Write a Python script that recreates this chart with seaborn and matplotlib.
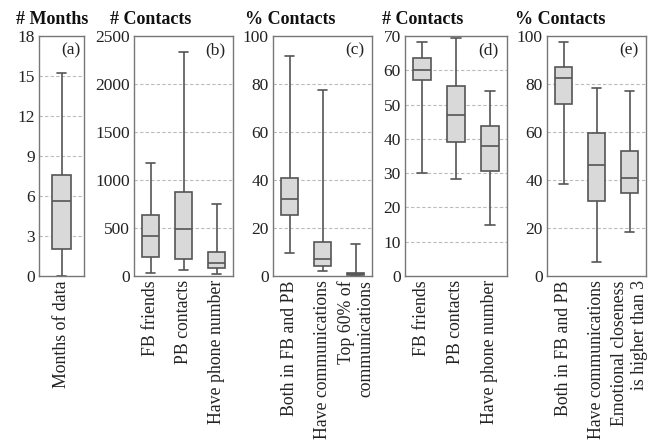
import numpy as np
import pandas as pd
import matplotlib
matplotlib.use("Agg")
import matplotlib.pyplot as plt
from matplotlib.ticker import FixedLocator
import seaborn as sns

# each box: [lower whisker, Q1, median, Q3, upper whisker]
months_labels = ["Months of data"]
months_stats = [[0, 2.0, 5.6, 7.6, 15.2]]

contacts_labels = ["FB friends", "PB contacts", "Have phone number"]
contacts_stats = [
    [30, 200, 415, 635, 1180],
    [60, 175, 490, 875, 2330],
    [25, 80, 140, 245, 755],
]

pct_labels = ["Both in FB and PB", "Have communications",
              "Top 60% of\ncommunications"]
pct_stats = [
    [9.5, 25.5, 32, 41, 91.5],
    [2.2, 4, 7, 14.3, 77.5],
    [0, 0.3, 0.7, 1.4, 13.5],
]

top_labels = ["FB friends", "PB contacts", "Have phone number"]
top_stats = [
    [30, 57.2, 60, 63.6, 68.3],
    [28.2, 39, 47, 55.5, 69.3],
    [15, 30.5, 38, 43.8, 54],
]

close_labels = ["Both in FB and PB", "Have communications",
                "Emotional closeness\nis higher than 3"]
close_stats = [
    [38.5, 71.5, 82.3, 87, 97.3],
    [6, 31.4, 46.3, 59.7, 78.2],
    [18.2, 34.4, 41, 52.2, 77],
]

panels = [
    ("# Months", "(a)", months_labels, months_stats, [0, 3, 6, 9, 12, 15, 18], 0.43),
    ("# Contacts", "(b)", contacts_labels, contacts_stats, [0, 500, 1000, 1500, 2000, 2500], 0.52),
    ("% Contacts", "(c)", pct_labels, pct_stats, [0, 20, 40, 60, 80, 100], 0.52),
    ("# Contacts", "(d)", top_labels, top_stats, [0, 10, 20, 30, 40, 50, 60, 70], 0.53),
    ("% Contacts", "(e)", close_labels, close_stats, [0, 20, 40, 60, 80, 100], 0.52),
]

sns.set_theme(style="white")
plt.rcParams["font.family"] = ["Liberation Serif", "DejaVu Serif"]

fig = plt.figure(figsize=(6.65, 4.47), dpi=100)
W, H = 665, 447
# axes extents in pixels (left, right) and title x
boxes_px = [(39, 84, 16), (134, 233, 110), (273, 372, 245), (405, 507, 382), (547, 646, 515)]
top_px, bot_px = 36, 276

edge = "#555555"
for (title, letter, labels, stats, yticks, bw), (x0, x1, tx) in zip(panels, boxes_px):
    ax = fig.add_axes([x0 / W, 1 - bot_px / H, (x1 - x0) / W, (bot_px - top_px) / H])
    rows = []
    for lab, st in zip(labels, stats):
        for v in st:
            rows.append({"label": lab, "value": v})
    df = pd.DataFrame(rows)
    sns.boxplot(data=df, x="label", y="value", ax=ax, whis=(0, 100), width=bw,
                color="#d9d9d9", linecolor=edge, linewidth=1.2, fliersize=0)
    ax.set_ylim(yticks[0], yticks[-1])
    ax.set_xlim(-0.5, len(labels) - 0.5)
    ax.set_yticks(yticks)
    ax.set_yticklabels([str(t) for t in yticks], fontsize=12.5)
    ax.set_xticks(range(len(labels)))
    ax.set_xticklabels(labels, rotation=90, fontsize=12.8, ha="center", va="top",
                       multialignment="right")
    ax.set_xlabel("")
    ax.set_ylabel("")
    ax.tick_params(axis="both", length=0, pad=3, colors="#222222")
    if len(labels) > 1:
        ax.xaxis.set_minor_locator(FixedLocator([i + 0.5 for i in range(len(labels) - 1)]))
        ax.tick_params(axis="x", which="minor", direction="in", length=3, color="#777777")
    for t in yticks[1:-1]:
        ax.axhline(t, color="#bbbbbb", lw=0.8, ls=(0, (3, 2)), zorder=0)
    for s in ax.spines.values():
        s.set_color("#777777")
        s.set_linewidth(1.0)
    ax.text(0.92, 0.975, letter, transform=ax.transAxes, ha="right", va="top",
            fontsize=12.5, color="#222222")
    fig.text(tx / W, 1 - 20 / H, title, ha="left", va="center", fontsize=13,
             fontweight="bold", color="#111111")

fig.savefig("out.png", dpi=100)
